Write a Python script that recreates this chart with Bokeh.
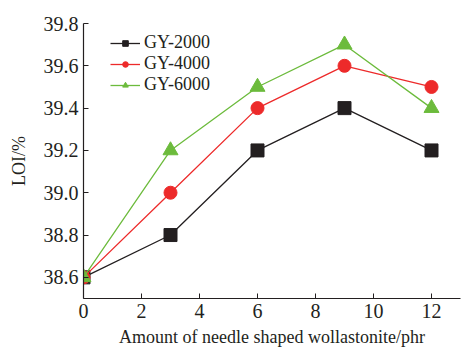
from bokeh.plotting import figure
from bokeh.models import Range1d, FixedTicker, Legend, LegendItem, NumeralTickFormatter
from bokeh.embed import file_html
from bokeh.resources import INLINE

x = [0, 3, 6, 9, 12]
gy2000 = [38.6, 38.8, 39.2, 39.4, 39.2]
gy4000 = [38.6, 39.0, 39.4, 39.6, 39.5]
gy6000 = [38.6, 39.2, 39.5, 39.7, 39.4]
x_ticks = [0, 2, 4, 6, 8, 10, 12]
y_ticks = [38.6, 38.8, 39.0, 39.2, 39.4, 39.6, 39.8]

FONT = "Liberation Serif"
INK = "#231f20"

p = figure(width=461, height=349, output_backend="svg", toolbar_location=None,
           x_range=Range1d(0, 13), y_range=Range1d(38.5, 39.8),
           min_border_left=83, min_border_top=23, min_border_right=1, min_border_bottom=49)
p.outline_line_color = None
p.xgrid.visible = False
p.ygrid.visible = False
p.background_fill_color = "white"

series = [
    ("GY-2000", gy2000, INK, "square", 13),
    ("GY-4000", gy4000, "#ed2a2a", "circle", 13),
    ("GY-6000", gy6000, "#6cbb3c", "triangle", 15),
]
items = []
for name, ys, col, mk, sz in series:
    l = p.line(x, ys, line_color=col, line_width=1.3)
    m = p.scatter(x, ys, marker=mk, size=sz, fill_color=col, line_color=col)
    items.append(LegendItem(label=name, renderers=[l, m]))

leg = Legend(items=items, location=(27, 203), margin=0, padding=0, spacing=-10,
             glyph_width=30, glyph_height=14, label_height=14, label_standoff=4,
             label_text_font=FONT, label_text_font_size="18px", label_text_color=INK,
             background_fill_alpha=0, border_line_color=None)
p.add_layout(leg)

for ax in (p.xaxis[0], p.yaxis[0]):
    ax.axis_line_color = INK
    ax.axis_line_width = 1.2
    ax.major_tick_line_color = INK
    ax.major_tick_in = 5
    ax.major_tick_out = 0
    ax.minor_tick_line_color = None
    ax.major_label_text_font = FONT
    ax.major_label_text_font_size = "20px"
    ax.major_label_text_color = INK
    ax.axis_label_text_font = FONT
    ax.axis_label_text_font_size = "18px"
    ax.axis_label_text_font_style = "normal"
    ax.axis_label_text_color = INK
    ax.major_label_standoff = 5

p.xaxis.ticker = FixedTicker(ticks=x_ticks)
p.yaxis.ticker = FixedTicker(ticks=y_ticks)
p.yaxis.formatter = NumeralTickFormatter(format="0.0")
p.xaxis.axis_label = "Amount of needle shaped wollastonite/phr"
p.yaxis.axis_label = "LOI/%"
p.xaxis.axis_label_standoff = 6
p.yaxis.axis_label_standoff = 12

open("out.html", "w").write(file_html(p, INLINE))
